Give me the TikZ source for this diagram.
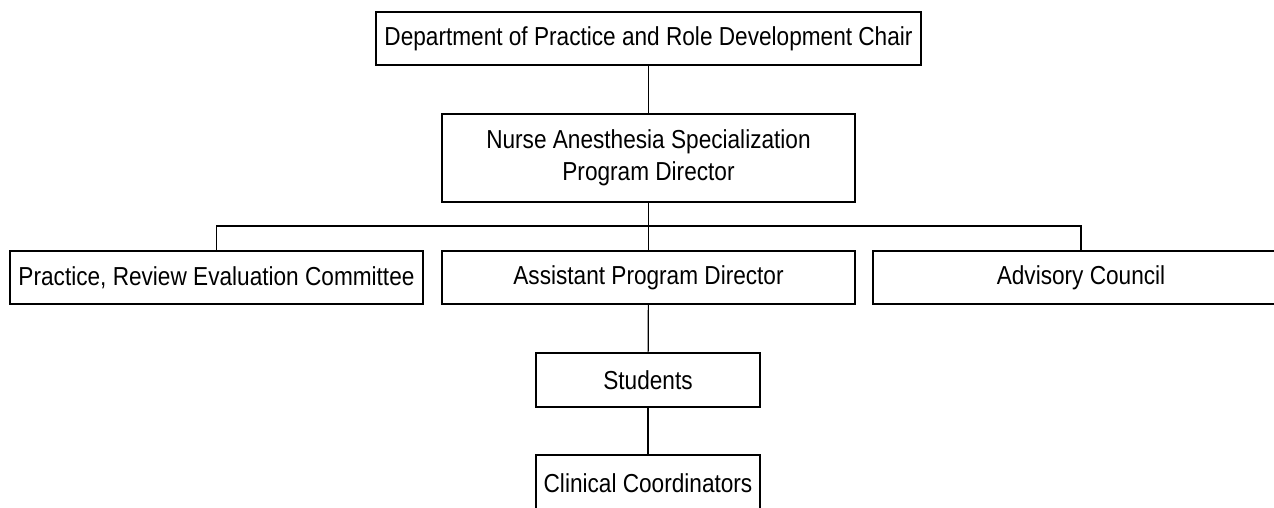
\documentclass[tikz,border=0pt]{standalone}
\usepackage{fontspec}
\setmainfont{Liberation Sans}[FakeStretch=0.87]
\begin{document}
\begin{tikzpicture}[x=1pt,y=-1pt,
  box/.style={draw=black, line width=1.7pt, inner sep=0pt, align=center,
    font=\fontsize{26}{32}\selectfont, fill=white},
  link/.style={draw=black, line width=1.2pt}]
\useasboundingbox (0,0) rectangle (1274,508);
\node[box, minimum width=545pt, minimum height=53pt] (top) at (648.5,38.5) {Department of Practice and Role Development Chair};
\node[box, minimum width=413pt, minimum height=88pt] (dir) at (648.5,158) {Nurse Anesthesia Specialization\\Program Director};
\node[box, minimum width=413pt, minimum height=53pt] (prec) at (216.5,277.5) {Practice, Review Evaluation Committee};
\node[box, minimum width=413pt, minimum height=53pt] (apd) at (648.5,277.5) {Assistant Program Director};
\node[box, minimum width=416pt, minimum height=53pt] (adv) at (1081,277.5) {Advisory Council};
\node[box, minimum width=224pt, minimum height=54pt] (stu) at (648,380) {Students};
\node[box, minimum width=224pt, minimum height=56pt] (cli) at (648,483) {Clinical Coordinators};
\coordinate (bar) at (648.5,226);
\draw[link] (top) -- (dir);
\draw[link] (dir) -- (apd);
\draw[link] (prec.north) |- (bar) -| (adv.north);
\draw[link] (apd) -- (stu);
\draw[link] (stu) -- (cli);
\end{tikzpicture}
\end{document}
